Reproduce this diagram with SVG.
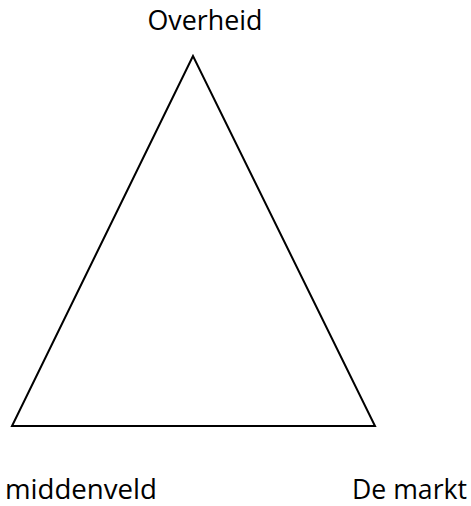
<svg xmlns="http://www.w3.org/2000/svg" width="471" height="506" viewBox="0 0 471 506">
<style>
.lbl{font-family:"Open Sans","Liberation Sans",sans-serif;font-size:27px;fill:#000}
.edge{fill:none;stroke:#000;stroke-width:2;stroke-linejoin:miter}
</style>
<rect width="471" height="506" fill="#fff"/>
<g id="connectors">
<polygon class="edge" points="193,56 12,426 375,426"/>
</g>
<g id="overheid"><text class="lbl" x="205" y="30" text-anchor="middle" textLength="115" lengthAdjust="spacingAndGlyphs">Overheid</text></g>
<g id="middenveld"><text class="lbl" x="5" y="499" textLength="152" lengthAdjust="spacingAndGlyphs">middenveld</text></g>
<g id="demarkt"><text class="lbl" x="352" y="499" textLength="115" lengthAdjust="spacingAndGlyphs">De markt</text></g>
</svg>
